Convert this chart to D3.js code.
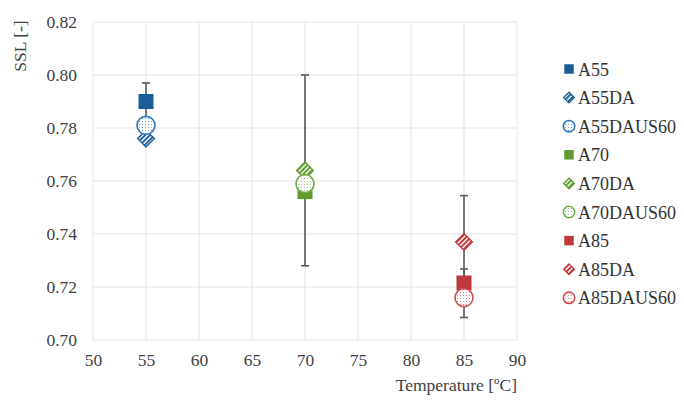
<!DOCTYPE html>
<html>
<head>
<meta charset="utf-8">
<script src="https://cdn.jsdelivr.net/npm/d3@7/dist/d3.min.js"></script>
<style>
  html, body { margin: 0; padding: 0; background: #fff; }
  svg text { font-family: "Liberation Serif", "Times New Roman", Times, "Tinos", "DejaVu Serif", "Noto Serif", serif !important; }
</style>
</head>
<body>
<svg id="chart" width="684" height="411"></svg>
<script>
// ---- data ----
const seriesNames = ["A55", "A55DA", "A55DAUS60", "A70", "A70DA", "A70DAUS60", "A85", "A85DA", "A85DAUS60"];
const temperatures = [55, 55, 55, 70, 70, 70, 85, 85, 85];
const sslValues = [0.790, 0.776, 0.781, 0.756, 0.764, 0.759, 0.7215, 0.737, 0.716];
const errorValues = [0.007, 0, 0, 0, 0.036, 0, 0.0053, 0.0175, 0.0075];
const xTicks = [50, 55, 60, 65, 70, 75, 80, 85, 90];
const yTicks = [0.70, 0.72, 0.74, 0.76, 0.78, 0.80, 0.82];

// ---- styles ----
const groupColor = { 55: "#1B5E97", 70: "#5E9A2E", 85: "#BF3A3C" };
const groupLight = { 55: "#2E75B6", 70: "#70AD47", 85: "#D04A4C" };
function markerKind(name) {
  if (name.endsWith("DAUS60")) return "circle";
  if (name.endsWith("DA")) return "diamond";
  return "square";
}

const svg = d3.select("#chart");
const margin = { left: 93, right: 167, top: 22, bottom: 71 };
const W = 684, H = 411;
const x = d3.scaleLinear().domain([50, 90]).range([margin.left, W - margin.right]);
const y = d3.scaleLinear().domain([0.70, 0.82]).range([H - margin.bottom, margin.top]);

// patterns
const defs = svg.append("defs");
Object.keys(groupColor).forEach(g => {
  const c = groupColor[g], l = groupLight[g];
  const st = defs.append("pattern").attr("id", "stripe" + g)
    .attr("patternUnits", "userSpaceOnUse").attr("width", 3.4).attr("height", 3.4)
    .attr("patternTransform", "rotate(-45)");
  st.append("rect").attr("width", 3.4).attr("height", 3.4).attr("fill", "#fff");
  st.append("rect").attr("width", 3.4).attr("height", 2).attr("fill", c);
  const dt = defs.append("pattern").attr("id", "dots" + g)
    .attr("patternUnits", "userSpaceOnUse").attr("width", 3).attr("height", 3);
  dt.append("rect").attr("width", 3).attr("height", 3).attr("fill", "#fff");
  dt.append("circle").attr("cx", 1.5).attr("cy", 1.5).attr("r", 0.6).attr("fill", l).attr("opacity", 0.8);
});

// gridlines
const grid = svg.append("g");
grid.selectAll(".gx").data(xTicks).join("line")
  .attr("x1", d => x(d)).attr("x2", d => x(d))
  .attr("y1", y(0.70)).attr("y2", y(0.82))
  .attr("stroke", "#E3E3E3").attr("stroke-width", 1);
grid.selectAll(".gy").data(yTicks).join("line")
  .attr("x1", x(50)).attr("x2", x(90))
  .attr("y1", d => y(d)).attr("y2", d => y(d))
  .attr("stroke", "#E3E3E3").attr("stroke-width", 1);

// axes (labels only)
const xAxis = d3.axisBottom(x).tickValues(xTicks).tickSize(0).tickPadding(14).tickFormat(d3.format("d"));
const gx = svg.append("g").attr("transform", `translate(0,${y(0.70)})`).call(xAxis);
gx.select(".domain").remove();
gx.attr("font-family", null).attr("font-size", null);
gx.selectAll("text").attr("font-size", 17.5).attr("fill", "#404040");

const yAxis = d3.axisLeft(y).tickValues(yTicks).tickSize(0).tickPadding(16).tickFormat(d3.format(".2f"));
const gy = svg.append("g").attr("transform", `translate(${x(50)},0)`).call(yAxis);
gy.select(".domain").remove();
gy.attr("font-family", null).attr("font-size", null);
gy.selectAll("text").attr("font-size", 17.5).attr("fill", "#404040");

// axis titles
svg.append("text").attr("x", x(90)).attr("y", 391).attr("text-anchor", "end")
  .attr("font-size", 17.5).attr("fill", "#404040").text("Temperature [ºC]");
svg.append("text").attr("transform", `translate(26,46) rotate(-90)`).attr("text-anchor", "middle")
  .attr("font-size", 17.5).attr("fill", "#404040").text("SSL [-]");

const data = seriesNames.map((n, i) => ({ name: n, t: temperatures[i], v: sslValues[i], e: errorValues[i] }));

function drawMarker(sel, d, cx, cy, size) {
  const kind = markerKind(d.name);
  const c = groupColor[d.t];
  if (kind === "square") {
    sel.append("rect").attr("x", cx - size / 2).attr("y", cy - size / 2)
      .attr("width", size).attr("height", size).attr("fill", c);
  } else if (kind === "diamond") {
    const r = size * 0.56;
    sel.append("path").attr("d", `M${cx},${cy - r}L${cx + r},${cy}L${cx},${cy + r}L${cx - r},${cy}Z`)
      .attr("fill", `url(#stripe${d.t})`).attr("stroke", c).attr("stroke-width", 1.3);
  } else {
    sel.append("circle").attr("cx", cx).attr("cy", cy).attr("r", size * 0.6)
      .attr("fill", `url(#dots${d.t})`).attr("stroke", groupLight[d.t]).attr("stroke-width", 1.6);
  }
}

// series: error bars then markers, in order
data.forEach(d => {
  const g = svg.append("g");
  if (d.e > 0) {
    const cx = x(d.t), y1 = y(d.v + d.e), y2 = y(d.v - d.e);
    g.append("line").attr("x1", cx).attr("x2", cx).attr("y1", y1).attr("y2", y2)
      .attr("stroke", "#595959").attr("stroke-width", 1.6);
    [y1, y2].forEach(yy => g.append("line").attr("x1", cx - 4).attr("x2", cx + 4)
      .attr("y1", yy).attr("y2", yy).attr("stroke", "#595959").attr("stroke-width", 1.6));
  }
});
data.forEach(d => {
  drawMarker(svg.append("g"), d, x(d.t), y(d.v), 15);
});

// legend
const legend = svg.append("g");
data.forEach((d, i) => {
  const ly = 69 + i * 28.6;
  drawMarker(legend.append("g"), d, 569, ly, 9.5);
  legend.append("text").attr("x", 578).attr("y", ly + 6.5)
    .attr("font-size", 18).attr("fill", "#333").text(d.name);
});
</script>
</body>
</html>
